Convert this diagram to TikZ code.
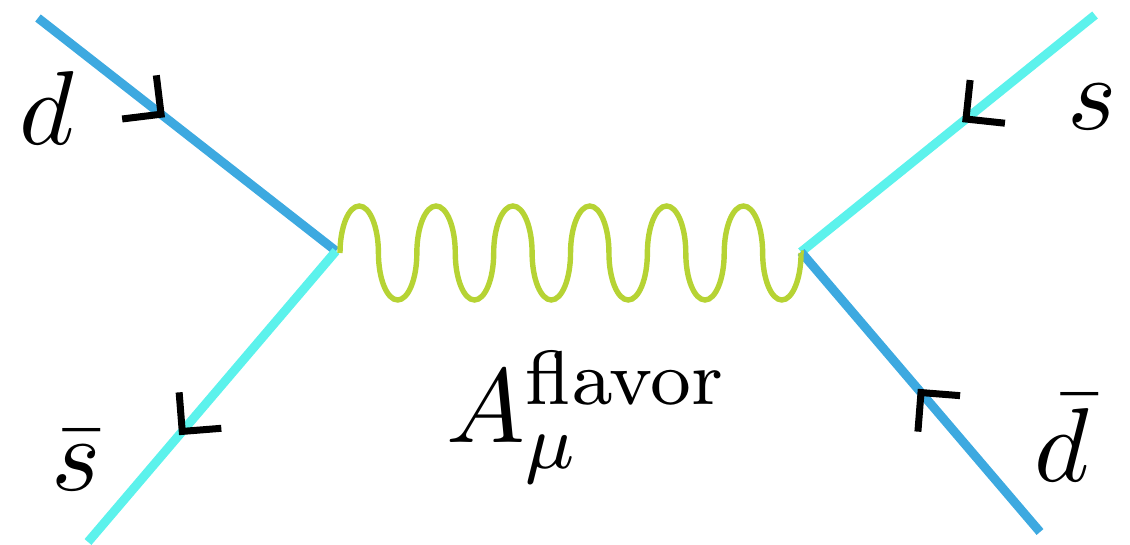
\RequirePackage{fix-cm}
\documentclass[tikz,border=0pt]{standalone}
\usetikzlibrary{calc}
\DeclareMathSizes{10.95}{10.95}{8}{6}
\definecolor{quarkblue}{RGB}{61,169,224}
\definecolor{quarkcyan}{RGB}{92,242,236}
\definecolor{gluongreen}{RGB}{182,211,52}
\begin{document}
\begin{tikzpicture}[x=0.25pt,y=0.25pt,line join=miter,
	dquark/.style={draw=quarkblue,line width=2.25pt},
	squark/.style={draw=quarkcyan,line width=2.25pt},
	gluon/.style={draw=gluongreen,line width=1.35pt},
	chevron/.style={draw=black,line width=1.75pt},
	lbl/.style={inner sep=0pt,anchor=base,scale=2.4,transform shape,
		font=\fontsize{10.95}{13.6}\selectfont}]
	\useasboundingbox (0,0) rectangle (1130,544);
	% vertices and outer ends
	\coordinate (vl) at (336,293);
	\coordinate (vr) at (801,292);
	\coordinate (gl) at (340,291);
	\coordinate (gr) at (801,291);
	\coordinate (dIn) at (38,526);
	\coordinate (sbOut) at (88,2);
	\coordinate (sIn) at (1095,529);
	\coordinate (dbOut) at (1040,12);
	% quark lines
	\draw[dquark] (dIn) -- (vl);
	\draw[squark] (vl) -- (sbOut);
	\draw[squark] (sIn) -- (vr);
	\draw[dquark] (vr) -- (dbOut);
	% gluon
	\draw[gluon] (gl) \foreach \k in {1,...,6}{
		arc[start angle=180,end angle=0,x radius=19.21,y radius=47]
		arc[start angle=180,end angle=360,x radius=19.21,y radius=47]} -- (gr);
	% arrows on the quark lines
	\coordinate (tipD) at ($(dIn)!0.413!(vl)$);
	\coordinate (tipSb) at ($(vl)!0.62!(sbOut)$);
	\coordinate (tipS) at ($(sIn)!0.439!(vr)$);
	\coordinate (tipDb) at ($(dbOut)!0.498!(vr)$);
	\draw[chevron] ($(tipD)!9.8pt!45:(dIn)$) -- (tipD) -- ($(tipD)!9.8pt!-45:(dIn)$);
	\draw[chevron] ($(tipSb)!9.8pt!45:(vl)$) -- (tipSb) -- ($(tipSb)!9.8pt!-45:(vl)$);
	\draw[chevron] ($(tipS)!9.8pt!45:(sIn)$) -- (tipS) -- ($(tipS)!9.8pt!-45:(sIn)$);
	\draw[chevron] ($(tipDb)!9.8pt!45:(dbOut)$) -- (tipDb) -- ($(tipDb)!9.8pt!-45:(dbOut)$);
	% labels
	\node at (47,399) (dlab) [lbl] {$d$};
	\node at (76,54) (sblab) [lbl] {$\bar{s}$};
	\node at (1092,414) (slab) [lbl] {$s$};
	\node at (1062,62) (dblab) [lbl] {$\bar{d}$};
	\node at (445,101) (alab) [lbl,anchor=base west] {$A_\mu^{\mathrm{flavor}}$};
\end{tikzpicture}
\end{document}
